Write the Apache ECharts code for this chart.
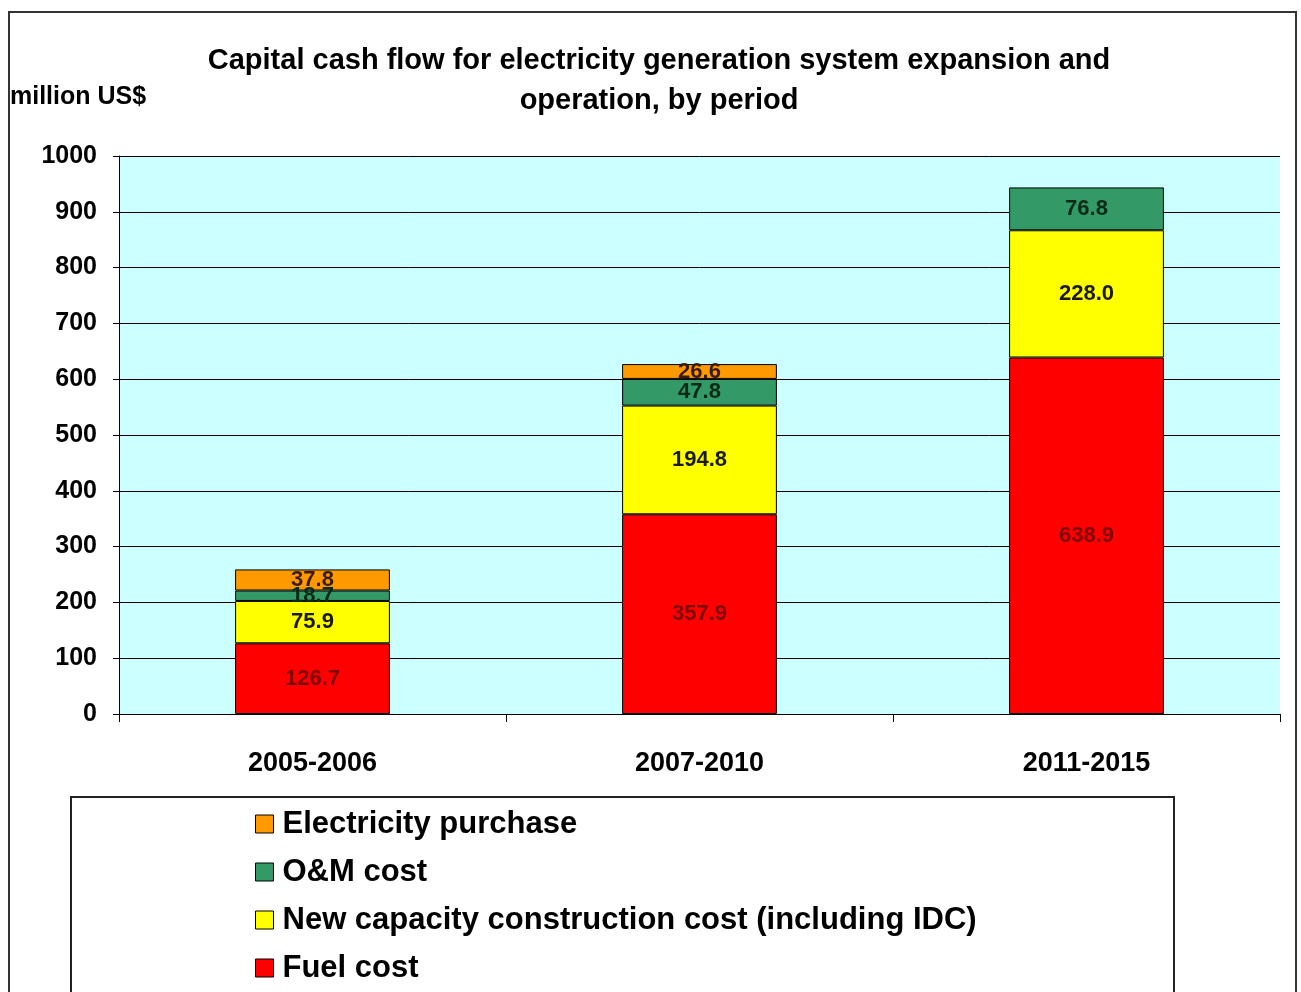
<!DOCTYPE html>
<html>
<head>
<meta charset="utf-8">
<script src="https://cdn.jsdelivr.net/npm/echarts@6/dist/echarts.min.js"></script>
<style>
  html, body { margin: 0; padding: 0; background: #fff; }
  #main { width: 1301px; height: 992px; }
</style>
</head>
<body>
<div id="main"></div>
<script>
const periods = ['2005-2006', '2007-2010', '2011-2015'];
const fuelCost = [126.7, 357.9, 638.9];
const newCapacity = [75.9, 194.8, 228.0];
const omCost = [18.7, 47.8, 76.8];
const elecPurchase = [37.8, 26.6, null];
const seriesNames = ['Fuel cost', 'New capacity construction cost (including IDC)', 'O&M cost', 'Electricity purchase'];

const font = 'Arial, "Liberation Sans", sans-serif';
const chart = echarts.init(document.getElementById('main'));

const mkSeries = (name, data, color, labelColor) => ({
  name: name,
  type: 'bar',
  stack: 'total',
  data: data,
  barWidth: '40%',
  itemStyle: { color: color, borderColor: '#000', borderWidth: 1 },
  label: {
    show: true,
    position: 'inside',
    color: labelColor,
    fontFamily: font,
    fontWeight: 'bold',
    fontSize: 22,
    formatter: p => (p.value == null ? '' : p.value.toFixed(1))
  }
});

const option = {
  backgroundColor: '#fff',
  animation: false,
  title: {
    text: 'Capital cash flow for electricity generation system expansion and\noperation, by period',
    left: 654,
    textAlign: 'center',
    top: 36,
    textStyle: { fontFamily: font, fontWeight: 'bold', fontSize: 29, lineHeight: 40, color: '#000' }
  },
  graphic: [
    { type: 'rect', shape: { x: 9, y: 12, width: 1287, height: 1000 }, style: { fill: null, stroke: '#333', lineWidth: 2 }, z: -1 },
    { type: 'rect', shape: { x: 71, y: 797, width: 1103, height: 220 }, style: { fill: '#fff', stroke: '#222', lineWidth: 2 }, z: 0 },
    { type: 'text', left: 10, top: 85, style: { text: 'million US$', font: 'bold 25px ' + font, fill: '#000' } }
  ],
  legend: {
    data: ['Electricity purchase', 'O&M cost', 'New capacity construction cost (including IDC)', 'Fuel cost'],
    orient: 'vertical',
    left: 250,
    top: 803,
    height: 400,
    itemWidth: 18,
    itemHeight: 18,
    itemGap: 16,
    icon: 'rect',
    z: 5,
    itemStyle: { borderColor: '#000', borderWidth: 1 },
    textStyle: { fontFamily: font, fontWeight: 'bold', fontSize: 31, lineHeight: 32, color: '#000', padding: [0, 0, 0, 4] }
  },
  grid: { left: 119, right: 21, top: 156, bottom: 278, backgroundColor: '#ccffff', show: true, borderWidth: 0 },
  xAxis: {
    type: 'category',
    data: periods,
    axisLine: { lineStyle: { color: '#000', width: 1 } },
    axisTick: { show: true, length: 8, lineStyle: { color: '#000' } },
    axisLabel: { fontFamily: font, fontWeight: 'bold', fontSize: 27, color: '#000', margin: 36 }
  },
  yAxis: {
    type: 'value',
    min: 0,
    max: 1000,
    interval: 100,
    axisLine: { show: true, lineStyle: { color: '#000', width: 1 } },
    axisTick: { show: true, length: 6, lineStyle: { color: '#000' } },
    axisLabel: { fontFamily: font, fontWeight: 'bold', fontSize: 25, color: '#000', margin: 22, formatter: v => String(v) },
    splitLine: { lineStyle: { color: '#000', width: 1 } }
  },
  series: [
    mkSeries(seriesNames[0], fuelCost, '#ff0000', '#800000'),
    mkSeries(seriesNames[1], newCapacity, '#ffff00', '#1a1a00'),
    mkSeries(seriesNames[2], omCost, '#339966', '#0a2a18'),
    mkSeries(seriesNames[3], elecPurchase, '#ff9900', '#3a1a00')
  ]
};

chart.setOption(option);
</script>
</body>
</html>
